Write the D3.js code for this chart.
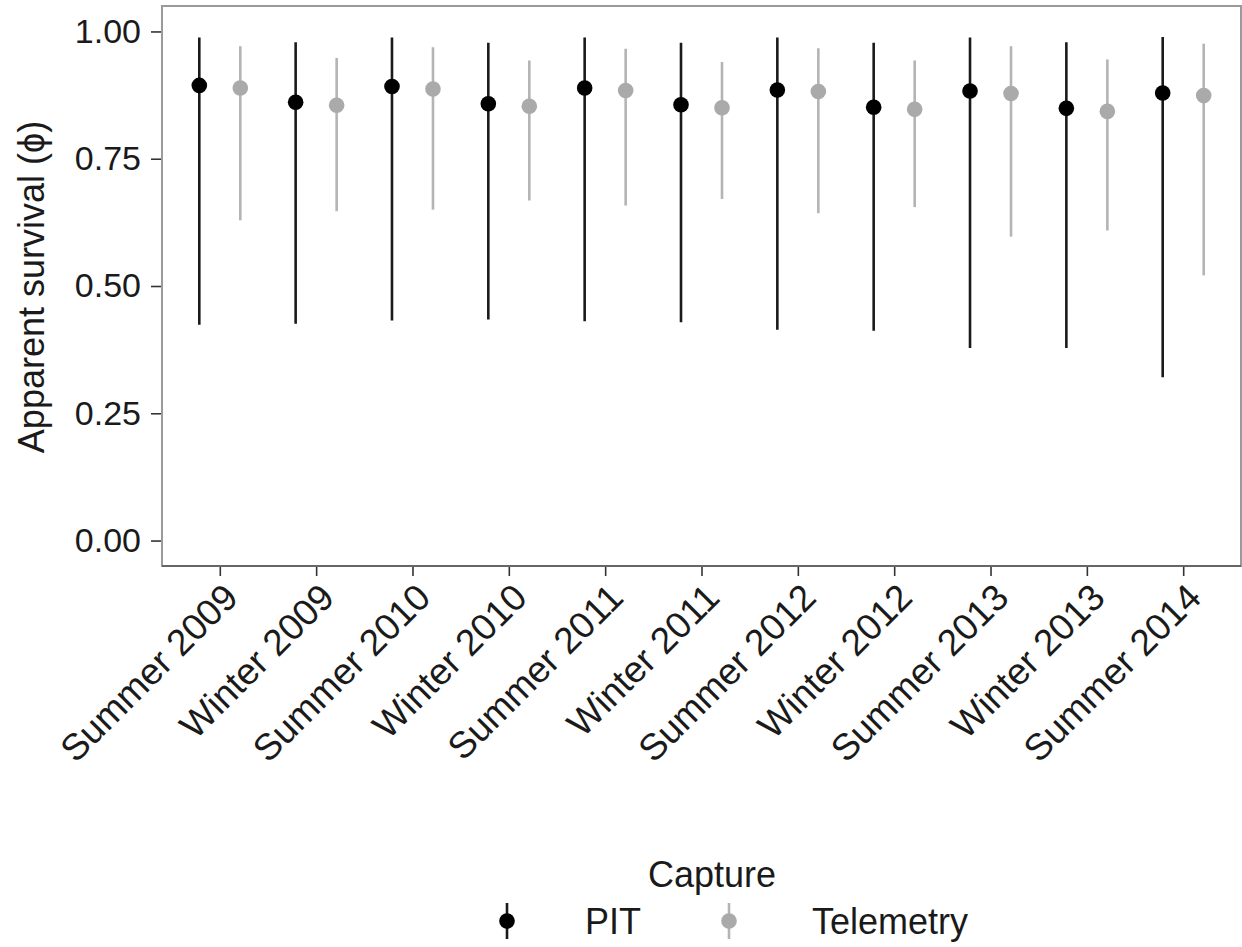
<!DOCTYPE html>
<html>
<head>
<meta charset="utf-8">
<script src="https://cdn.jsdelivr.net/npm/d3@7"></script>
<style>
  body { margin: 0; background: #fff; }
  svg { display: block; font-family: "Liberation Sans", Arial, sans-serif; }
</style>
</head>
<body>
<div id="chart"></div>
<script>
// seasons on the x axis
var seasons = ['Summer 2009', 'Winter 2009', 'Summer 2010', 'Winter 2010', 'Summer 2011',
	       'Winter 2011', 'Summer 2012', 'Winter 2012', 'Summer 2013', 'Winter 2013', 'Summer 2014'];

var captureTypes = ['PIT', 'Telemetry'];

// PIT estimates with lower / upper bounds
var pitEst = [0.894, 0.861, 0.892, 0.858, 0.889, 0.856, 0.885, 0.851, 0.883, 0.849, 0.879];
var pitLow = [0.424, 0.426, 0.432, 0.434, 0.431, 0.429, 0.414, 0.412, 0.378, 0.378, 0.321];
var pitHigh = [0.988, 0.979, 0.988, 0.978, 0.988, 0.978, 0.988, 0.978, 0.988, 0.979, 0.989];

// telemetry estimates with lower / upper bounds
var telEst = [0.889, 0.855, 0.887, 0.853, 0.884, 0.850, 0.882, 0.847, 0.878, 0.843, 0.874];
var telLow = [0.629, 0.647, 0.650, 0.668, 0.658, 0.671, 0.643, 0.655, 0.597, 0.609, 0.521];
var telHigh = [0.971, 0.948, 0.969, 0.943, 0.966, 0.940, 0.967, 0.943, 0.971, 0.945, 0.976];

var yTicks = [0, 0.25, 0.5, 0.75, 1];

var width = 1242, height = 947;
var panel = {left: 162, right: 1241, top: 6, bottom: 566};

var colors = {PIT: '#000000', Telemetry: '#aaaaaa'};
var barColors = {PIT: '#1a1a1a', Telemetry: '#b4b4b4'};

var svg = d3.select('#chart').append('svg')
    .attr('width', width)
    .attr('height', height);

var x = d3.scalePoint()
    .domain(seasons)
    .range([panel.left, panel.right])
    .padding(0.6);

// dodge within each season
var dodge = d3.scalePoint()
    .domain(captureTypes)
    .range([-20.5, 20.5]);

var y = d3.scaleLinear()
    .domain([-0.05, 1.05])
    .range([panel.bottom, panel.top]);

var color = d3.scaleOrdinal()
    .domain(captureTypes)
    .range([colors.PIT, colors.Telemetry]);

// build rows from the arrays
var rows = [];
seasons.forEach(function(s, i) {
    rows.push({season: s, type: 'PIT', est: pitEst[i], lo: pitLow[i], hi: pitHigh[i]});
    rows.push({season: s, type: 'Telemetry', est: telEst[i], lo: telLow[i], hi: telHigh[i]});
});

// error bars
svg.append('g').selectAll('line')
    .data(rows)
    .enter().append('line')
    .attr('x1', function(d) { return x(d.season) + dodge(d.type); })
    .attr('x2', function(d) { return x(d.season) + dodge(d.type); })
    .attr('y1', function(d) { return y(d.lo); })
    .attr('y2', function(d) { return y(d.hi); })
    .attr('stroke', function(d) { return barColors[d.type]; })
    .attr('stroke-width', 2.6);

// points
svg.append('g').selectAll('circle')
    .data(rows)
    .enter().append('circle')
    .attr('cx', function(d) { return x(d.season) + dodge(d.type); })
    .attr('cy', function(d) { return y(d.est); })
    .attr('r', 7.8)
    .attr('fill', function(d) { return color(d.type); });

// panel border
svg.append('rect')
    .attr('x', panel.left)
    .attr('y', panel.top)
    .attr('width', panel.right - panel.left)
    .attr('height', panel.bottom - panel.top)
    .attr('fill', 'none')
    .attr('stroke', '#9a9a9a')
    .attr('stroke-width', 2);

// y axis
var yAxis = d3.axisLeft(y)
    .tickValues(yTicks)
    .tickFormat(d3.format('.2f'))
    .tickSize(10)
    .tickPadding(10);

var gy = svg.append('g')
    .attr('transform', 'translate(' + (panel.left - 1) + ',0)')
    .call(yAxis);
gy.select('.domain').remove();
gy.selectAll('.tick line').attr('stroke', '#333').attr('stroke-width', 1.6);
gy.selectAll('.tick text')
    .attr('fill', '#1a1a1a')
    .attr('font-size', 34)
    .attr('font-family', '"Liberation Sans", Arial, sans-serif');

// x axis
var xAxis = d3.axisBottom(x)
    .tickSize(9)
    .tickPadding(6);

var gx = svg.append('g')
    .attr('transform', 'translate(0,' + (panel.bottom + 1) + ')')
    .call(xAxis);
gx.select('.domain').remove();
gx.selectAll('.tick line').attr('stroke', '#333').attr('stroke-width', 1.6);
gx.selectAll('.tick text')
    .attr('fill', '#1a1a1a')
    .attr('font-size', 37)
    .attr('font-family', '"Liberation Sans", Arial, sans-serif')
    .attr('text-anchor', 'end')
    .attr('dy', null)
    .attr('y', 0)
    .attr('transform', 'translate(1,14) rotate(-45)')
    .attr('dominant-baseline', 'hanging');

// bottom line of panel is a little darker
svg.append('line')
    .attr('x1', panel.left)
    .attr('x2', panel.right)
    .attr('y1', panel.bottom)
    .attr('y2', panel.bottom)
    .attr('stroke', '#666')
    .attr('stroke-width', 2);

// y title
svg.append('text')
    .attr('transform', 'translate(31,' + 287 + ') rotate(-90)')
    .attr('text-anchor', 'middle')
    .attr('dy', '0.35em')
    .attr('font-size', 36)
    .attr('fill', '#1a1a1a')
    .text('Apparent survival (\u03d5)');

// legend
var legend = svg.append('g').attr('class', 'legend');

legend.append('text')
    .attr('x', 712)
    .attr('y', 887)
    .attr('text-anchor', 'middle')
    .attr('font-size', 36)
    .attr('fill', '#1a1a1a')
    .text('Capture');

var keyX = {PIT: 507, Telemetry: 729};
var keyY = 921;

var item = legend.selectAll('g.item')
    .data(captureTypes)
    .enter().append('g')
    .attr('class', 'item')
    .attr('transform', function(d) { return 'translate(' + keyX[d] + ',' + keyY + ')'; });

item.append('line')
    .attr('y1', -18)
    .attr('y2', 18)
    .attr('stroke', function(d) { return barColors[d]; })
    .attr('stroke-width', 2.6);

item.append('circle')
    .attr('r', 7.8)
    .attr('fill', function(d) { return color(d); });

item.append('text')
    .attr('x', function(d) { return d === 'PIT' ? 78 : 83; })
    .attr('dy', '0.36em')
    .attr('font-size', 36)
    .attr('fill', '#1a1a1a')
    .text(function(d) { return d; });
</script>
</body>
</html>
